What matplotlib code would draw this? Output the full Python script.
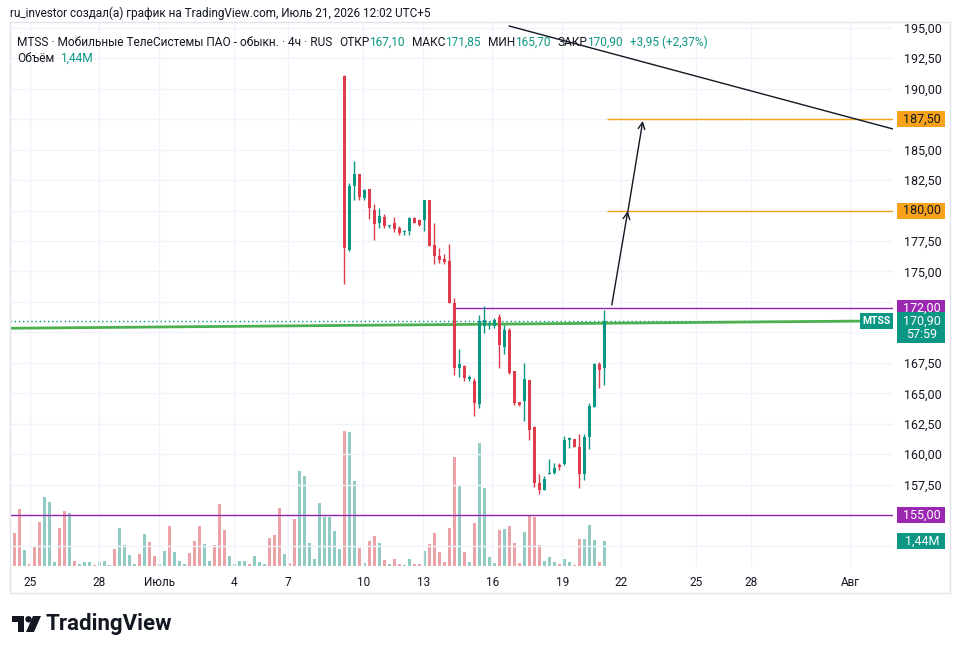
import matplotlib
matplotlib.use('Agg')
import matplotlib.pyplot as plt
from matplotlib.patches import Rectangle, Polygon, Circle
import numpy as np

plt.rcParams['font.family'] = ['Roboto', 'DejaVu Sans']

# 4h volume per bar, millions (bar 0 is cut by the left edge)
volume = [
    1.50, 1.90, 3.28, 0.92, 0.12, 1.15, 2.53, 3.97, 3.69, 0.23,
    2.19, 3.17, 3.05, 0.29, 0.12, 0.23, 0.23, 0.06, 0.23, 0.29,
    0.06, 0.98, 2.19, 1.21, 0.63, 0.12, 0.69, 1.84, 1.38, 0.58,
    0.12, 0.86, 2.30, 0.81, 0.29, 0.12, 0.75, 1.44, 2.30, 1.27,
    0.29, 1.21, 3.57, 2.07, 0.58, 0.12, 0.29, 0.29, 0.12, 0.58,
    0.23, 0.12, 1.61, 1.79, 3.34, 0.69, 0.17, 2.71, 5.47, 5.18,
    1.32, 0.40, 3.63, 2.82, 2.82, 2.02, 0.98, 7.78, 7.72, 4.90,
    1.04, 0.17, 1.44, 1.73, 1.32, 0.35, 0.12, 0.40, 0.12, 0.06,
    0.40, 0.12, 0.12, 0.86, 1.27, 1.90, 0.81, 0.23, 2.19, 6.28,
    4.61, 0.81, 0.23, 2.48, 7.08, 4.49, 0.52, 0.17, 2.07, 2.13,
    2.30, 1.32, 0.17, 1.96, 2.94, 2.82, 1.21, 0.29, 0.52, 0.23,
    0.12, 0.40, 0.23, 0.06, 1.56, 1.56, 2.36, 1.50, 0.23, 1.44,
]
# direction of the bars whose candles are above the visible range
early_dir = "ddduddduuu" "dduduuuduu" "uduuuududd" "uuduuudddu" "uddduuuudu" "uudddudduu" "uuuuuuu"

first_candle = 67
opens = [191.0, 176.8, 182.0, 183.0, 181.0, 181.8, 180.05, 178.95, 179.45, 178.7,
         179.0, 178.6, 178.2, 178.3, 179.35, 179.2, 179.2, 180.85, 177.2, 176.25,
         176.0, 175.85, 172.4, 167.07, 167.25, 166.2, 166.0, 164.1, 170.5, 170.6,
         170.5, 171.3, 168.8, 170.2, 166.8, 164.3, 164.4, 166.1, 162.2, 157.65,
         157.1, 158.4, 158.5, 159.1, 159.2, 161.2, 161.25, 160.6, 158.35, 161.45,
         163.9, 167.4, 167.1]
highs = [191.1, 182.25, 184.1, 183.0, 181.8, 181.8, 180.5, 180.2, 179.7, 178.8,
         179.45, 178.7, 178.4, 179.45, 179.45, 179.3, 180.85, 180.85, 178.95, 176.9,
         176.4, 177.25, 172.8, 168.6, 167.3, 166.5, 166.25, 171.4, 172.2, 170.9,
         171.2, 171.5, 170.6, 170.4, 166.85, 164.3, 167.5, 166.1, 162.3, 158.4,
         158.2, 159.6, 159.25, 159.25, 161.5, 161.45, 161.25, 161.65, 161.7, 164.2,
         167.5, 167.55, 171.85]
lows = [174.0, 176.7, 180.9, 180.9, 180.9, 179.3, 177.6, 178.6, 178.6, 178.6,
        178.2, 178.0, 178.0, 178.0, 178.95, 178.7, 178.3, 177.1, 175.6, 175.7,
        175.6, 172.4, 166.5, 166.3, 166.0, 166.05, 163.1, 163.8, 169.95, 170.3,
        170.4, 167.1, 168.2, 166.6, 164.05, 164.0, 162.7, 161.2, 157.3, 156.7,
        157.05, 158.35, 158.4, 158.7, 159.1, 160.5, 160.6, 157.2, 157.9, 160.4,
        163.85, 165.4, 165.7]
closes = [176.9, 182.0, 183.0, 181.1, 181.7, 180.2, 178.9, 179.55, 178.7, 178.8,
          178.5, 178.15, 178.35, 179.35, 179.0, 178.8, 180.85, 177.1, 176.25, 175.9,
          175.75, 172.4, 167.1, 167.4, 166.25, 166.35, 164.2, 170.9, 171.0, 170.7,
          171.0, 169.0, 170.2, 166.7, 164.2, 164.05, 166.2, 162.0, 157.6, 157.1,
          158.0, 158.5, 158.85, 158.95, 161.2, 161.35, 160.6, 158.4, 161.45, 163.95,
          167.4, 166.95, 170.9]

price_ticks = np.arange(152.5, 195.1, 2.5)
date_pos = [4.1, 18, 30, 45, 55.8, 70.8, 82.8, 96.6, 110.6, 122.3, 137.3, 148.3, 168.2]
date_labels = ['25', '28', 'Июль', '4', '7', '10', '13', '16', '19', '22', '25', '28', 'Авг']

# drawings on the chart
support, resistance = 155.0, 172.0
resistance_from = 88.7
targets = [187.5, 180.0]
targets_from = 119.6
green_trend = ([0.14, 176.74], [170.34, 170.95])
black_trend = ([100.0, 176.74], [195.14, 186.69])
arrows = [((120.5, 172.25), (123.7, 179.96)), ((123.7, 179.88), (126.7, 187.35))]

UP, DOWN = '#0b9783', '#de3c4b'
UP_VOL, DOWN_VOL = '#92cbc3', '#eba3a7'
PURPLE, ORANGE, TEXT = '#9c27b0', '#f7a21b', '#131722'
GRID = '#f0f3fa'

W, H = 961, 654
fig = plt.figure(figsize=(W / 100, H / 100), dpi=100)


def px_rect(x0, y0, x1, y1):
    return [x0 / W, 1 - y1 / H, (x1 - x0) / W, (y1 - y0) / H]


ax = fig.add_axes(px_rect(10, 22, 893, 566))
axv = ax.twinx()
ax.set_zorder(axv.get_zorder() + 1)
ax.patch.set_visible(False)

xlim = (0.14, 176.74)
ax.set_xlim(*xlim)
ax.set_ylim(150.83, 195.47)
axv.set_ylim(0, 31.33)

# volume
n = len(volume)
xs = np.arange(n)
vol_up = [c == 'u' for c in early_dir] + [c >= o for o, c in zip(opens, closes)]
axv.bar(xs, volume, width=0.62, color=[UP_VOL if u else DOWN_VOL for u in vol_up], linewidth=0)
axv.set_yticks([])
for s in axv.spines.values():
    s.set_visible(False)

# candles
cx = np.arange(first_candle, first_candle + len(opens))
o, h, l, c = map(np.array, (opens, highs, lows, closes))
col = np.where(c >= o, UP, DOWN)
ax.vlines(cx, l, h, colors=col, lw=1, zorder=3)
body_lo = np.minimum(o, c)
body_h = np.maximum(np.abs(c - o), 0.09)
ax.bar(cx, body_h, bottom=body_lo, width=0.7, color=col, linewidth=0, zorder=4)

# lines drawn by the author
ax.hlines(support, *xlim, color='#8e24aa', lw=1, zorder=2)
ax.hlines(resistance, resistance_from, xlim[1], color='#8e24aa', lw=1, zorder=2)
ax.hlines(targets, targets_from, xlim[1], color=ORANGE, lw=1, zorder=2)
ax.axhline(closes[-1], color=UP, lw=1, ls=(0, (1, 2)), zorder=2)
ax.plot(*green_trend, color='#4caf50', lw=2, zorder=2)
ax.plot(*black_trend, color=TEXT, lw=1, zorder=2)
for start, end in arrows:
    ax.annotate('', xy=end, xytext=start,
                arrowprops=dict(arrowstyle='->', color=TEXT, lw=1, shrinkA=0, shrinkB=0,
                                mutation_scale=12))

# overlay in pixel coordinates for header, badges and logo
ov = fig.add_axes([0, 0, 1, 1])
ov.set_zorder(10)
ov.patch.set_visible(False)
ov.set_xlim(0, W)
ov.set_ylim(H, 0)
ov.axis('off')
ov.add_patch(Rectangle((10, 22), 940, 571, fill=False, ec='#e0e3eb', lw=1))


def price_y(p):
    return H - ax.transData.transform((0, p))[1]


badge_spans = []


def badge(y, text, fc, tc, x0=897, x1=945, top=8, bottom=8):
    ov.add_patch(Rectangle((x0, y - top), x1 - x0, top + bottom, fc=fc, ec='none', zorder=5))
    ov.text((x0 + x1) / 2 + 1, y, text, color=tc, fontsize=9, ha='center', va='center', zorder=6)
    badge_spans.append((y - top, y + bottom))


fmt = lambda v: f"{v:.2f}".replace('.', ',')
for p in targets:
    badge(price_y(p), fmt(p), ORANGE, TEXT)
badge(price_y(resistance), fmt(resistance), PURPLE, 'white')
badge(price_y(support), fmt(support), PURPLE, 'white')

yl = price_y(closes[-1])
badge(yl, fmt(closes[-1]), UP, 'white', top=9, bottom=22)
ov.text(922, yl + 13, '57:59', color='white', fontsize=9, ha='center', va='center', zorder=6)
ov.add_patch(Rectangle((860, yl - 8), 33, 16, fc=UP, ec='none', zorder=5))
ov.text(876.5, yl, 'MTSS', color='white', fontsize=7.5, fontweight='bold', ha='center',
        va='center', zorder=6)

yv = H - axv.transData.transform((0, volume[-1]))[1]
badge(yv, f"{volume[-1]:.2f}".replace('.', ',') + 'M', UP, 'white')

# price scale: labels that sit under a badge are not shown
ticklabels = []
for v in price_ticks:
    y = price_y(v)
    covered = any(a - 4 < y < b + 4 for a, b in badge_spans)
    ticklabels.append('' if covered else fmt(v))

ax.set_xticks(date_pos)
ax.set_xticklabels(date_labels)
ax.set_yticks(price_ticks)
ax.set_yticklabels(ticklabels)
ax.yaxis.tick_right()
ax.tick_params(axis='both', length=0, colors=TEXT)
ax.tick_params(axis='x', labelsize=8.5, pad=7)
ax.tick_params(axis='y', labelsize=9, pad=8)
for t in ax.get_yticklabels():
    t.set_horizontalalignment('left')
ax.grid(True, color=GRID, lw=1)
ax.set_axisbelow(True)
for s in ax.spines.values():
    s.set_visible(False)

# header texts
ov.text(10, 13, 'ru_investor создал(а) график на TradingView.com, Июль 21, 2026 12:02 UTC+5',
        fontsize=8.5, color=TEXT, va='center')

renderer = fig.canvas.get_renderer()


def put(x, y, s, color, gap=0.0, size=8.6):
    t = ov.text(x, y, s, color=color, fontsize=size, va='center')
    return x + t.get_window_extent(renderer).width + gap


chg = closes[-1] - closes[-2]
pct = chg / closes[-2] * 100
x = put(17, 42, 'MTSS · Мобильные ТелеСистемы ПАО - обыкн. · 4ч · RUS', TEXT, 7)
for lab, val in [('ОТКР', opens[-1]), ('МАКС', highs[-1]), ('МИН', lows[-1]), ('ЗАКР', closes[-1])]:
    x = put(x, 42, lab, TEXT)
    x = put(x, 42, fmt(val), UP, 7)
put(x, 42, f"+{fmt(chg)} (+{fmt(pct)}%)", UP)
x = put(17, 58, 'Объём', TEXT, 6)
put(x, 58, f"{volume[-1]:.2f}".replace('.', ',') + 'M', UP)

# TradingView logo
ov.add_patch(Polygon([(12, 616), (24, 616), (24, 632), (18, 632), (18, 622), (12, 622)],
                     closed=True, fc=TEXT, ec='none'))
ov.add_patch(Circle((28.5, 619.3), 3.2, fc=TEXT, ec='none'))
ov.add_patch(Polygon([(33, 616), (41, 616), (34, 632), (26, 632)], closed=True, fc=TEXT, ec='none'))
ov.text(45, 624, 'TradingView', fontsize=16, fontweight='bold', color=TEXT, va='center')

fig.savefig('out.png', dpi=100)
